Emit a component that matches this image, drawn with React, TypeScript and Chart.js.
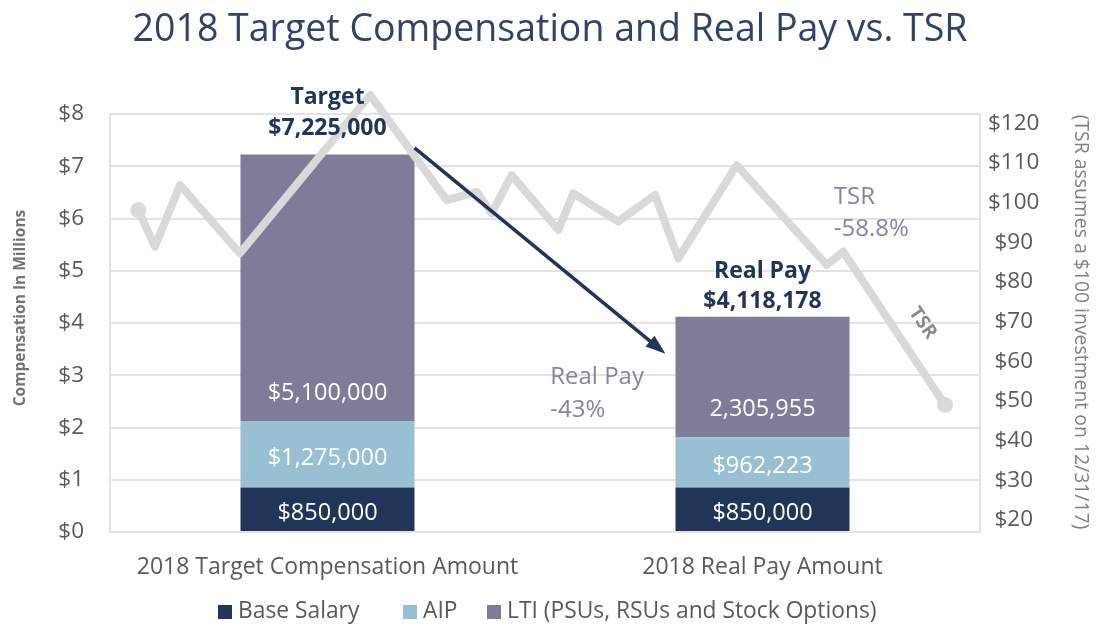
import React, { useEffect, useRef } from "react";
import { Chart, registerables } from "chart.js";
Chart.register(...registerables);

// ---------- data ----------
const categories = ["2018 Target Compensation Amount", "2018 Real Pay Amount"];
const seriesNames = ["Base Salary", "AIP", "LTI (PSUs, RSUs and Stock Options)"];
const baseSalary = [850000, 850000];
const aip = [1275000, 962223];
const lti = [5100000, 2305955];
const baseLabels = ["$850,000", "$850,000"];
const aipLabels = ["$1,275,000", "$962,223"];
const ltiLabels = ["$5,100,000", "2,305,955"];
const totalTitles = ["Target", "Real Pay"];

// TSR line: horizontal position (0-100 across the plot) and value ($)
const tsrX = [3.25, 5.17, 8.05, 14.94, 29.89, 38.7, 42.15, 43.87, 46.17, 51.53, 53.25, 58.43, 62.64, 65.32, 72.03, 82.38, 84.29, 95.98];
const tsrY = [98.1, 88.9, 104.4, 87.2, 127.1, 100.6, 102.7, 97.3, 106.9, 93.1, 102.3, 95.2, 101.9, 85.9, 109.4, 84.3, 87.6, 49.0];

const leftTickValues = [0, 1, 2, 3, 4, 5, 6, 7, 8];
const rightTickValues = [20, 30, 40, 50, 60, 70, 80, 90, 100, 110, 120];

const chartTitle = "2018 Target Compensation and Real Pay vs. TSR";
const leftAxisTitle = "Compensation In Millions";
const rightAxisTitle = "(TSR assumes a $100 investment on 12/31/17)";
const realPayNote = ["Real Pay", "-43%"];
const tsrNote = ["TSR", "-58.8%"];
const tsrTag = "TSR";

// ---------- styles ----------
const FONT = "'Open Sans', sans-serif";
const NAVY = "#213559";
const COLORS = ["#223559", "#99c0d2", "#7d7d99"];
const TSR_COLOR = "#d9d9d9";
const GRID = "#e3e3e3";
const TEXT = "#595959";
const NOTE = "#8484a4";

const fmt = (n: number) => "$" + Math.round(n).toString().replace(/\B(?=(\d{3})+(?!\d))/g, ",");
const M = (arr: number[]) => arr.map((v) => v / 1e6);

const decor = {
  id: "decor",
  afterDatasetsDraw(chart: any) {
    const ctx = chart.ctx;
    const sx = chart.scales.x2;
    const sy = chart.scales.y;
    ctx.save();
    // segment labels
    const labelSets = [baseLabels, aipLabels, ltiLabels];
    ctx.fillStyle = "#ffffff";
    ctx.font = `23.5px ${FONT}`;
    ctx.textAlign = "center";
    ctx.textBaseline = "middle";
    labelSets.forEach((labels, d) => {
      chart.getDatasetMeta(d).data.forEach((el: any, j: number) => {
        const y = d === 2 ? el.base - 28 : (el.y + el.base) / 2 + 4;
        ctx.fillText(labels[j], el.x, y);
      });
    });
    // totals
    const tops = chart.getDatasetMeta(2).data;
    const offs = [[57, 26], [45, 15]];
    ctx.fillStyle = NAVY;
    ctx.font = `bold 23px ${FONT}`;
    tops.forEach((el: any, j: number) => {
      const total = baseSalary[j] + aip[j] + lti[j];
      ctx.fillText(totalTitles[j], el.x, el.y - offs[j][0]);
      ctx.fillText(fmt(total), el.x, el.y - offs[j][1]);
    });
    // arrow
    const b0: any = tops[0];
    const b1: any = tops[1];
    const x1 = b0.x + b0.width / 2;
    const y1 = sy.getPixelForValue(7.35);
    const x2 = b1.x - b1.width / 2 - 10;
    const y2 = sy.getPixelForValue(3.41);
    const ang = Math.atan2(y2 - y1, x2 - x1);
    const head = 20;
    ctx.strokeStyle = NAVY;
    ctx.fillStyle = NAVY;
    ctx.lineWidth = 3.5;
    ctx.beginPath();
    ctx.moveTo(x1, y1);
    ctx.lineTo(x2 - Math.cos(ang) * head * 0.8, y2 - Math.sin(ang) * head * 0.8);
    ctx.stroke();
    ctx.beginPath();
    ctx.moveTo(x2, y2);
    ctx.lineTo(x2 - head * Math.cos(ang) + 7 * Math.sin(ang), y2 - head * Math.sin(ang) - 7 * Math.cos(ang));
    ctx.lineTo(x2 - head * Math.cos(ang) - 7 * Math.sin(ang), y2 - head * Math.sin(ang) + 7 * Math.cos(ang));
    ctx.closePath();
    ctx.fill();
    // notes
    ctx.font = `24px ${FONT}`;
    ctx.fillStyle = NOTE;
    ctx.textAlign = "left";
    ctx.fillText(realPayNote[0], sx.getPixelForValue(50.6), sy.getPixelForValue(2.97));
    ctx.fillText(realPayNote[1], sx.getPixelForValue(50.6), sy.getPixelForValue(2.33));
    ctx.fillText(tsrNote[0], sx.getPixelForValue(83.2), sy.getPixelForValue(6.41));
    ctx.fillText(tsrNote[1], sx.getPixelForValue(83.2), sy.getPixelForValue(5.8));
    // rotated TSR tag
    ctx.save();
    ctx.translate(sx.getPixelForValue(93.4), sy.getPixelForValue(4.0));
    ctx.rotate((55 * Math.PI) / 180);
    ctx.textAlign = "center";
    ctx.font = `bold 19px ${FONT}`;
    ctx.fillStyle = "#8a8a8a";
    ctx.fillText(tsrTag, 0, 0);
    ctx.restore();
    ctx.restore();
  },
  afterDraw(chart: any) {
    const ctx = chart.ctx;
    ctx.save();
    // title
    ctx.fillStyle = "#2f4368";
    ctx.font = `37.5px ${FONT}`;
    ctx.textAlign = "center";
    ctx.textBaseline = "middle";
    ctx.fillText(chartTitle, 550, 30);
    // left axis title
    ctx.save();
    ctx.translate(21, 308);
    ctx.rotate(-Math.PI / 2);
    ctx.font = `bold 15.5px ${FONT}`;
    ctx.fillStyle = "#737373";
    ctx.fillText(leftAxisTitle, 0, 0);
    ctx.restore();
    // right axis title
    ctx.save();
    ctx.translate(1081, 322);
    ctx.rotate(Math.PI / 2);
    ctx.font = `19.4px ${FONT}`;
    ctx.fillStyle = "#808080";
    ctx.fillText(rightAxisTitle, 0, 0);
    ctx.restore();
    // legend
    const lx = [218, 403, 487];
    ctx.font = `22.8px ${FONT}`;
    ctx.textAlign = "left";
    seriesNames.forEach((name, i) => {
      ctx.fillStyle = COLORS[i];
      ctx.fillRect(lx[i], 605, 14, 14);
      ctx.fillStyle = TEXT;
      ctx.fillText(name, lx[i] + 20, 612);
    });
    ctx.restore();
  },
};

export default function App() {
  const ref = useRef<HTMLCanvasElement>(null);
  useEffect(() => {
    const barOpts = { xAxisID: "x", yAxisID: "y", order: 1, barPercentage: 0.5, categoryPercentage: 0.8, grouped: false, stack: "pay" };
    const chart = new Chart(ref.current as HTMLCanvasElement, {
      type: "bar",
      data: {
        labels: categories,
        datasets: [
          { label: seriesNames[0], data: M(baseSalary), backgroundColor: COLORS[0], ...barOpts },
          { label: seriesNames[1], data: M(aip), backgroundColor: COLORS[1], ...barOpts },
          { label: seriesNames[2], data: M(lti), backgroundColor: COLORS[2], ...barOpts },
          {
            type: "line",
            label: "TSR",
            data: tsrX.map((x, i) => ({ x, y: tsrY[i] })),
            xAxisID: "x2",
            yAxisID: "y2",
            borderColor: TSR_COLOR,
            backgroundColor: TSR_COLOR,
            borderWidth: 8,
            borderJoinStyle: "round",
            borderCapStyle: "round",
            pointRadius: tsrX.map((_, i) => (i === 0 || i === tsrX.length - 1 ? 8 : 0)),
            pointBorderWidth: 0,
            pointBackgroundColor: TSR_COLOR,
            tension: 0,
            clip: false,
            order: 0,
          } as any,
        ],
      },
      options: {
        responsive: false,
        animation: false,
        devicePixelRatio: 1,
        layout: { padding: { top: 114, left: 0, right: 0, bottom: 0 } },
        plugins: { legend: { display: false }, tooltip: { enabled: false }, title: { display: false } },
        scales: {
          x: {
            type: "category",
            stacked: true,
            grid: { display: false },
            border: { display: false },
            ticks: { font: { family: FONT, size: 23 }, color: TEXT, padding: 14, maxRotation: 0, autoSkip: false },
            afterFit: (s: any) => { s.height = 96; },
          },
          y: {
            position: "left",
            stacked: true,
            min: 0,
            max: 8,
            afterBuildTicks: (s: any) => { s.ticks = leftTickValues.map((v) => ({ value: v })); },
            ticks: { font: { family: FONT, size: 22.5 }, color: TEXT, padding: 26, callback: (v: any) => "$" + v },
            grid: { color: GRID, lineWidth: 2, drawTicks: false },
            border: { display: true, color: GRID, width: 2 },
            afterFit: (s: any) => { s.width = 110; },
          },
          y2: {
            position: "right",
            min: 17,
            max: 122.3,
            afterBuildTicks: (s: any) => { s.ticks = rightTickValues.map((v) => ({ value: v })); },
            ticks: { font: { family: FONT, size: 22.5 }, color: TEXT, padding: 8, crossAlign: "center", callback: (v: any) => "$" + v },
            grid: { display: false, drawTicks: false },
            border: { display: true, color: GRID, width: 2 },
            afterFit: (s: any) => { s.width = 120; },
          },
          x2: { type: "linear", display: false, offset: false, min: 0, max: 100 },
        },
      } as any,
      plugins: [decor],
    });
    return () => chart.destroy();
  }, []);
  return (
    <div style={{ position: "fixed", left: 0, top: 0, width: 1100, height: 628, background: "#ffffff" }}>
      <canvas ref={ref} width={1100} height={628} style={{ display: "block" }} />
    </div>
  );
}
